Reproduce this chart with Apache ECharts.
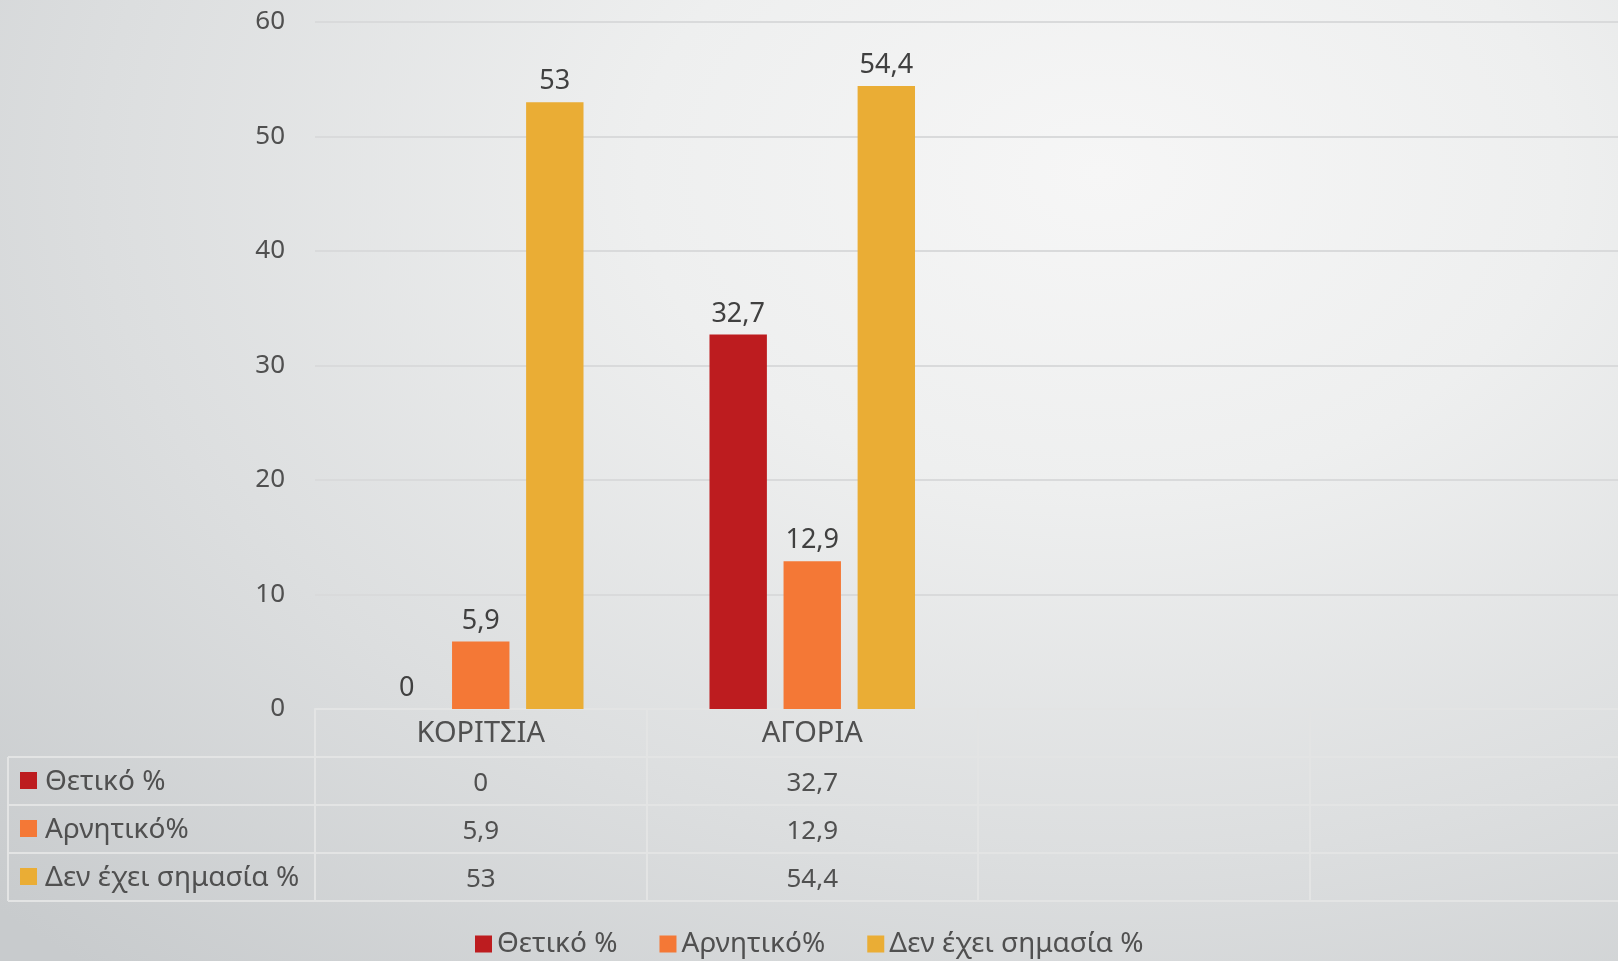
<!DOCTYPE html>
<html>
<head>
<meta charset="utf-8">
<script src="https://cdn.jsdelivr.net/npm/echarts@6/dist/echarts.min.js"></script>
<style>
  html, body { margin: 0; padding: 0; overflow: hidden; }
  #chart {
    width: 1618px; height: 961px;
    background: radial-gradient(ellipse 95% 110% at 68% 18%, #f6f6f6 0%, #eeefef 30%, #dcdedf 65%, #c8cbcd 100%);
  }
</style>
</head>
<body>
<div id="chart"></div>
<script>
// categories (the last two columns are empty in the source)
const categories = ['ΚΟΡΙΤΣΙΑ', 'ΑΓΟΡΙΑ', '', '']
const seriesNames = ['Θετικό %', 'Αρνητικό%', 'Δεν έχει σημασία %']
const positive = [0, 32.7, null, null]
const negative = [5.9, 12.9, null, null]
const noMatter = [53, 54.4, null, null]
const yTicks = [0, 10, 20, 30, 40, 50, 60]

const colors = ['#bd1c1f', '#f47836', '#eaad35']
const allData = [positive, negative, noMatter]

const gridLeft = 315
const gridTop = 22
const gridBottom = 252
const gridWidth = 1326   // chart runs past the right edge of the picture
const rowH = 48
const tableLeft = 8
const lineColor = '#e3e4e4'
const textColor = '#505050'
const font = '"Noto Sans", sans-serif'

// 32.7 -> 32,7
const fmt = (v) => v == null ? '' : String(v).replace('.', ',')

let chart = echarts.init(document.getElementById('chart'), null, {renderer: 'canvas'})

let xAxes = [{
  type: 'category',
  data: categories,
  position: 'bottom',
  axisLine: {lineStyle: {color: lineColor, width: 2}},
  axisTick: {show: true, interval: 0, length: rowH * 4, lineStyle: {color: lineColor, width: 2}},
  axisLabel: {interval: 0, color: textColor, fontSize: 29, fontFamily: font, margin: 10}
}]
// one extra axis per table row, labels are the values
allData.forEach((arr, k) => {
  xAxes.push({
    type: 'category',
    data: categories,
    position: 'bottom',
    offset: rowH * (k + 1),
    axisLine: {lineStyle: {color: lineColor, width: 2}},
    axisTick: {show: false},
    axisLabel: {
      interval: 0, color: textColor, fontSize: 26, fontFamily: font, margin: 14,
      formatter: (val, idx) => fmt(arr[idx])
    }
  })
})
// bottom border of the table
xAxes.push({
  type: 'category',
  data: categories,
  position: 'bottom',
  offset: rowH * 4,
  axisLine: {lineStyle: {color: lineColor, width: 2}},
  axisTick: {show: false},
  axisLabel: {show: false}
})

// left column of the data table
let tableTop = 961 - gridBottom + rowH
let graphics = []
for (let i = 0; i <= 3; i++) {
  graphics.push({
    type: 'line',
    shape: {x1: tableLeft, y1: tableTop + i * rowH, x2: gridLeft, y2: tableTop + i * rowH},
    style: {stroke: lineColor, lineWidth: 2}
  })
}
graphics.push({
  type: 'line',
  shape: {x1: tableLeft, y1: tableTop, x2: tableLeft, y2: tableTop + 3 * rowH},
  style: {stroke: lineColor, lineWidth: 2}
})
seriesNames.forEach((name, i) => {
  let cy = tableTop + i * rowH + rowH / 2
  graphics.push({
    type: 'rect',
    shape: {x: 20, y: cy - 9, width: 17, height: 17},
    style: {fill: colors[i]}
  })
  graphics.push({
    type: 'text',
    x: 45, y: cy + 1,
    style: {text: name, fill: textColor, fontSize: 28, fontFamily: font, verticalAlign: 'middle'}
  })
})

let option = {
  animation: false,
  grid: {left: gridLeft, width: gridWidth, top: gridTop, bottom: gridBottom, outerBoundsMode: 'none'},
  legend: {
    data: seriesNames,
    top: 925, left: 470,
    icon: 'rect', itemWidth: 17, itemHeight: 17, itemGap: 42,
    textStyle: {color: textColor, fontSize: 28, fontFamily: font}
  },
  xAxis: xAxes,
  yAxis: {
    type: 'value',
    min: yTicks[0], max: yTicks[yTicks.length - 1], interval: 10,
    axisLine: {show: false},
    axisTick: {show: false},
    axisLabel: {color: textColor, fontSize: 26, fontFamily: font, margin: 30},
    splitLine: {lineStyle: {color: '#d9dadb', width: 2}}
  },
  series: seriesNames.map((name, i) => ({
    name: name,
    type: 'bar',
    data: allData[i],
    barCategoryGap: '38%',
    barGap: '29%',
    itemStyle: {color: colors[i]},
    label: {
      show: true, position: 'top', distance: 7,
      color: '#404040', fontSize: 27, fontFamily: font,
      formatter: (p) => fmt(p.value)
    }
  })),
  graphic: graphics
}

chart.setOption(option)
</script>
</body>
</html>
